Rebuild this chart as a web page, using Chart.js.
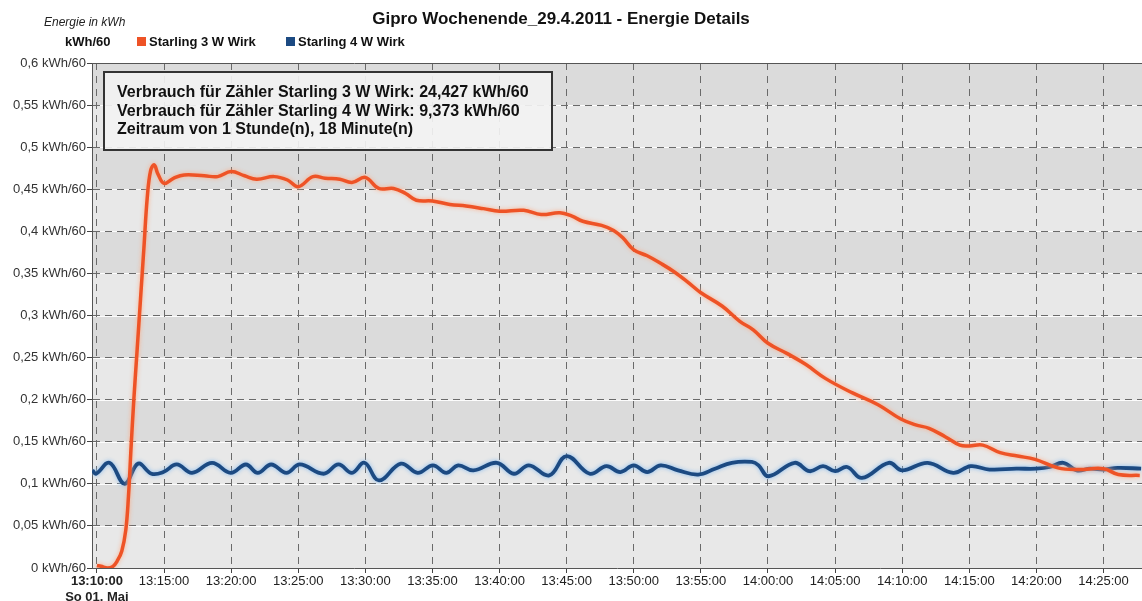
<!DOCTYPE html>
<html><head><meta charset="utf-8">
<script src="https://cdn.jsdelivr.net/npm/chart.js@4/dist/chart.umd.min.js"></script>
<style>html,body{margin:0;padding:0;background:#fff}canvas{display:block}</style>
</head><body>
<canvas id="c" width="1142" height="601"></canvas>
<script>
// ---------- data ----------
const chartTitle = 'Gipro Wochenende_29.4.2011 - Energie Details';
const unitTitle = 'Energie in kWh';
const unitLabel = 'kWh/60';
const seriesNames = ['Starling 3 W Wirk', 'Starling 4 W Wirk'];
const seriesColors = ['#ee5326', '#1c4a82'];
const infoLines = [
  'Verbrauch für Zähler Starling 3 W Wirk: 24,427 kWh/60',
  'Verbrauch für Zähler Starling 4 W Wirk: 9,373 kWh/60',
  'Zeitraum von 1 Stunde(n), 18 Minute(n)'
];
const xTickLabels = ['13:10:00','13:15:00','13:20:00','13:25:00','13:30:00','13:35:00','13:40:00','13:45:00',
  '13:50:00','13:55:00','14:00:00','14:05:00','14:10:00','14:15:00','14:20:00','14:25:00'];
const xDateLabel = 'So 01. Mai';
const yTickValues = [0,0.05,0.1,0.15,0.2,0.25,0.3,0.35,0.4,0.45,0.5,0.55,0.6];
const yTickLabels = ['0 kWh/60','0,05 kWh/60','0,1 kWh/60','0,15 kWh/60','0,2 kWh/60','0,25 kWh/60','0,3 kWh/60',
  '0,35 kWh/60','0,4 kWh/60','0,45 kWh/60','0,5 kWh/60','0,55 kWh/60','0,6 kWh/60'];

// seconds after 13:10:00
const s3Seconds = [0,18,48,72,90,111,129,141,153,165,180,195,210,225,240,256,273,300,342,390,480,540,600,660,714,792,852,900,966,1020,1086,1140,1200,1260,1326,1380,1428,1500,1578,1650,1728,1800,1908,1986,2070,2124,2172,2256,2310,2352,2400,2460,2520,2580,2640,2700,2796,2874,2934,3000,3084,3168,3258,3378,3492,3594,3660,3720,3792,3858,3900,3960,4038,4116,4194,4296,4386,4500,4566,4662];
const s3Values = [0.003,0.002,0,0.002,0.008,0.02,0.045,0.085,0.145,0.2,0.26,0.32,0.38,0.44,0.472,0.479,0.468,0.457,0.463,0.467,0.466,0.465,0.471,0.466,0.462,0.465,0.461,0.453,0.465,0.463,0.462,0.458,0.464,0.451,0.451,0.445,0.437,0.436,0.432,0.43,0.427,0.424,0.425,0.42,0.422,0.418,0.412,0.407,0.401,0.392,0.378,0.371,0.362,0.352,0.34,0.327,0.311,0.293,0.283,0.267,0.255,0.242,0.225,0.208,0.194,0.177,0.17,0.166,0.156,0.146,0.145,0.146,0.137,0.133,0.129,0.119,0.117,0.118,0.111,0.110];

const s4Seconds = [-20,-4,56,124,184,244,297,357,425,515,598,666,719,779,847,907,1013,1080,1140,1196,1261,1359,1434,1502,1562,1615,1683,1788,1864,1931,2022,2100,2203,2278,2340,2400,2460,2520,2598,2688,2763,2838,2928,2958,3002,3119,3186,3246,3300,3354,3420,3540,3600,3714,3828,3906,3990,4110,4200,4260,4320,4380,4440,4503,4563,4668];
const s4Values = [0.116,0.112,0.125,0.100,0.124,0.112,0.114,0.123,0.113,0.125,0.113,0.123,0.113,0.123,0.113,0.123,0.112,0.123,0.113,0.125,0.104,0.124,0.113,0.122,0.113,0.122,0.116,0.125,0.112,0.122,0.110,0.133,0.112,0.121,0.114,0.122,0.114,0.122,0.116,0.111,0.118,0.125,0.126,0.122,0.109,0.125,0.115,0.121,0.115,0.120,0.107,0.125,0.116,0.125,0.113,0.121,0.117,0.118,0.118,0.120,0.125,0.116,0.118,0.117,0.119,0.118];

// ---------- helpers ----------
function toSec(hms){const p=hms.split(':').map(Number);return (p[0]*3600+p[1]*60+p[2])-(13*3600+10*60);}
const xTickSeconds = xTickLabels.map(toSec);
const FONT = '"Liberation Sans", Arial, Helvetica, sans-serif';
Chart.defaults.font.family = FONT;

const pts = (xs, ys) => xs.map((x,i)=>({x, y: ys[i]}));

const bandPlugin = {
  id: 'bands',
  beforeDraw(chart){
    const {ctx, chartArea:a, scales:{y}} = chart;
    ctx.save();
    for (let i=0;i<yTickValues.length-1;i++){
      const y1=y.getPixelForValue(yTickValues[i]), y2=y.getPixelForValue(yTickValues[i+1]);
      ctx.fillStyle = (i%2) ? '#dbdbdb' : '#e8e8e8';
      ctx.fillRect(a.left, y2, a.right-a.left, y1-y2);
    }
    ctx.strokeStyle='rgba(255,255,255,0.9)'; ctx.lineWidth=1;
    yTickValues.forEach(v=>{const yy=Math.round(y.getPixelForValue(v))+0.5;ctx.beginPath();ctx.moveTo(a.left,yy);ctx.lineTo(a.right,yy);ctx.stroke();});
    ctx.restore();
  },
  beforeDatasetsDraw(chart){
    const {ctx, chartArea:a} = chart;
    ctx.save(); ctx.strokeStyle='#555'; ctx.lineWidth=1;
    ctx.beginPath(); ctx.moveTo(a.left, a.top+0.5); ctx.lineTo(a.right, a.top+0.5); ctx.stroke();
    ctx.restore();
  }
};
const glowPlugin = {
  id: 'glow',
  beforeDatasetDraw(chart, args){
    const ctx = chart.ctx; ctx.save();
    ctx.shadowColor = args.index===0 ? 'rgba(255,170,130,0.9)' : 'rgba(130,185,240,0.95)';
    ctx.shadowBlur = 4;
  },
  afterDatasetDraw(chart){ chart.ctx.restore(); }
};
const textPlugin = {
  id: 'texts',
  afterDraw(chart){
    const ctx = chart.ctx; ctx.save();
    ctx.textBaseline='middle';
    ctx.fillStyle='#111'; ctx.font='bold 17px '+FONT; ctx.textAlign='center';
    ctx.fillText(chartTitle, 561, 19);
    ctx.textAlign='left';
    ctx.fillStyle='#222'; ctx.font='italic 12px '+FONT; ctx.fillText(unitTitle, 44, 23);
    ctx.fillStyle='#111'; ctx.font='bold 13px '+FONT; ctx.fillText(unitLabel, 65, 42);
    const lx=[137,286];
    seriesNames.forEach((n,i)=>{
      ctx.fillStyle=seriesColors[i]; ctx.fillRect(lx[i],37,9,9);
      ctx.fillStyle='#111'; ctx.font='bold 13px '+FONT; ctx.fillText(n, lx[i]+12, 42);
    });
    // info box
    ctx.fillStyle='rgba(242,242,242,0.92)'; ctx.fillRect(104,72,448,78);
    ctx.strokeStyle='#333'; ctx.lineWidth=2; ctx.strokeRect(104,72,448,78);
    ctx.fillStyle='#111'; ctx.font='bold 16px '+FONT;
    infoLines.forEach((t,i)=>ctx.fillText(t, 117, 93+i*18.5));
    ctx.restore();
  }
};

new Chart(document.getElementById('c'), {
  type: 'line',
  data: {
    datasets: [
      {label: seriesNames[0], data: pts(s3Seconds, s3Values), borderColor: seriesColors[0], borderWidth: 3.5, pointRadius: 0, tension: 0.4, fill: false},
      {label: seriesNames[1], data: pts(s4Seconds, s4Values), borderColor: seriesColors[1], borderWidth: 3.8, pointRadius: 0, tension: 0.4, fill: false}
    ]
  },
  options: {
    responsive: false, animation: false, devicePixelRatio: 1,
    layout: {padding: {top: 63, left: 0, right: 0, bottom: 0}},
    plugins: {legend: {display: false}, title: {display: false}, tooltip: {enabled: false}},
    scales: {
      x: {
        type: 'linear', min: -22, max: 4672,
        afterBuildTicks: s => { s.ticks = xTickSeconds.map(v=>({value: v})); },
        afterFit: s => { s.height = 33; },
        grid: {color: '#6a6a6a', lineWidth: 1, tickLength: 5, tickColor: '#444', tickWidth: 1, tickBorderDash: []},
        border: {display: true, color: '#555', width: 1, dash: [7,6]},
        ticks: {
          autoSkip: false, maxRotation: 0, padding: 0, color: '#222',
          font: c => c.index === 0 ? {size: 13, weight: 'bold', lineHeight: 1.25} : {size: 13, lineHeight: 1.25},
          callback: (v, i) => i === 0 ? [xTickLabels[0], xDateLabel] : xTickLabels[i]
        }
      },
      y: {
        type: 'linear', min: 0, max: 0.6,
        afterBuildTicks: s => { s.ticks = yTickValues.map(v=>({value: v})); },
        afterFit: s => { s.width = 92; },
        grid: {color: '#6a6a6a', lineWidth: 1, tickLength: 5, tickColor: '#444', tickWidth: 1, tickBorderDash: []},
        border: {display: true, color: '#555', width: 1, dash: [7,5]},
        ticks: {padding: 1, color: '#333', font: {size: 13}, callback: (v, i) => yTickLabels[i]}
      }
    }
  },
  plugins: [bandPlugin, glowPlugin, textPlugin]
});
</script>
</body></html>
